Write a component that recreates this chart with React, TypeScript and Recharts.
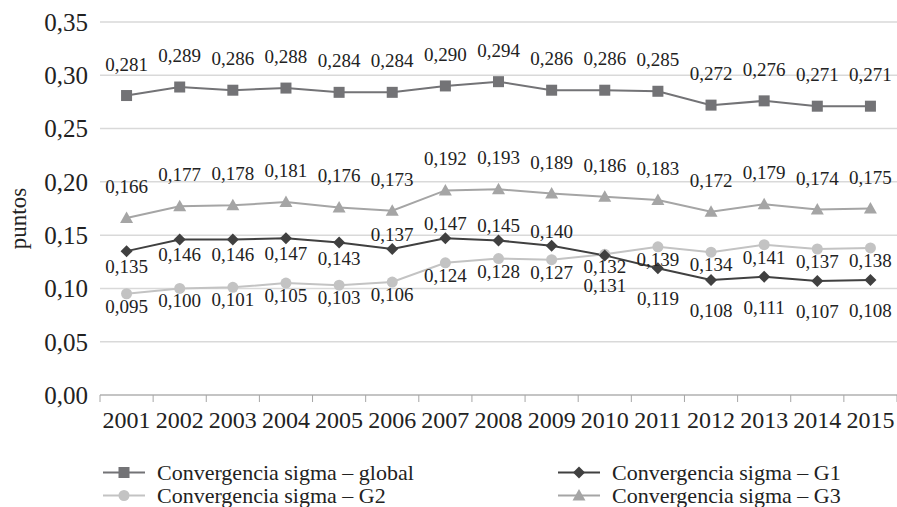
import React from 'react'
import { CartesianGrid, Legend, Line, LineChart, XAxis, YAxis, LabelList } from 'recharts'

const years = ['2001', '2002', '2003', '2004', '2005', '2006', '2007', '2008', '2009', '2010', '2011', '2012', '2013', '2014', '2015']
const sigmaGlobal = [0.281, 0.289, 0.286, 0.288, 0.284, 0.284, 0.29, 0.294, 0.286, 0.286, 0.285, 0.272, 0.276, 0.271, 0.271]
const sigmaG1 = [0.135, 0.146, 0.146, 0.147, 0.143, 0.137, 0.147, 0.145, 0.14, 0.131, 0.119, 0.108, 0.111, 0.107, 0.108]
const sigmaG2 = [0.095, 0.1, 0.101, 0.105, 0.103, 0.106, 0.124, 0.128, 0.127, 0.132, 0.139, 0.134, 0.141, 0.137, 0.138]
const sigmaG3 = [0.166, 0.177, 0.178, 0.181, 0.176, 0.173, 0.192, 0.193, 0.189, 0.186, 0.183, 0.172, 0.179, 0.174, 0.175]
const yTicks = [0, 0.05, 0.1, 0.15, 0.2, 0.25, 0.3, 0.35]

const data = years.map((year, i) => ({
  year,
  global: sigmaGlobal[i],
  g1: sigmaG1[i],
  g2: sigmaG2[i],
  g3: sigmaG3[i],
}))

const W = 897
const H = 507
const Y_AXIS_W = 100
const PLOT_W = W - Y_AXIS_W
const HALF_BAND = PLOT_W / years.length / 2
const FONT = 'Liberation Serif, serif'

const C_GLOBAL = '#737376'
const C_G1 = '#404040'
const C_G2 = '#c3c3c3'
const C_G3 = '#a5a5a5'

// G1 labels that excel put above the point, and from 2010 on they sit further below
const g1Above = new Set([5, 6, 7, 8])
const G1_FAR_FROM = 9

const fmt = (v: number, d: number) => v.toFixed(d).replace('.', ',')

const Marker = ({ shape, cx, cy, color }: any) => {
  if (cx == null || cy == null) return null
  if (shape === 'square') return <rect x={cx - 5.5} y={cy - 5.5} width={11} height={11} fill={color} />
  if (shape === 'diamond')
    return <polygon points={`${cx},${cy - 6} ${cx + 6},${cy} ${cx},${cy + 6} ${cx - 6},${cy}`} fill={color} />
  if (shape === 'triangle')
    return <polygon points={`${cx},${cy - 6.5} ${cx + 6.5},${cy + 5} ${cx - 6.5},${cy + 5}`} fill={color} />
  return <circle cx={cx} cy={cy} r={5.5} fill={color} />
}

const makeDot = (shape: string, color: string) => (p: any) => (
  <Marker key={p.index} shape={shape} cx={p.cx} cy={p.cy} color={color} />
)

const makeLabel = (series: string) => (p: any) => {
  const { x, y, value, index } = p
  let dy = -25
  if (series === 'g2') dy = 19
  if (series === 'g1') dy = g1Above.has(index) ? -8 : index >= G1_FAR_FROM ? 37 : 22
  return (
    <text x={x} y={y + dy} textAnchor='middle' style={{ fontFamily: FONT }} fontSize={19} fill='#222'>
      {fmt(value, 3)}
    </text>
  )
}

const YearTick = ({ x, y, payload, index }: any) => (
  <g>
    <line x1={x - HALF_BAND} y1={y} x2={x - HALF_BAND} y2={y + 7} stroke='#a6a6a6' />
    {index === years.length - 1 && <line x1={x + HALF_BAND} y1={y} x2={x + HALF_BAND} y2={y + 7} stroke='#a6a6a6' />}
    <text x={x} y={y + 33} textAnchor='middle' style={{ fontFamily: FONT }} fontSize={24} fill='#222'>
      {payload.value}
    </text>
  </g>
)

const legendItems = [
  { name: 'Convergencia sigma – global', shape: 'square', color: C_GLOBAL, col: 0, row: 0 },
  { name: 'Convergencia sigma – G1', shape: 'diamond', color: C_G1, col: 1, row: 0 },
  { name: 'Convergencia sigma – G2', shape: 'circle', color: C_G2, col: 0, row: 1 },
  { name: 'Convergencia sigma – G3', shape: 'triangle', color: C_G3, col: 1, row: 1 },
]

const LegendBox = () => (
  <div style={{ position: 'relative', height: 55, width: W, fontFamily: FONT, fontSize: 22, color: '#222' }}>
    {legendItems.map((it) => (
      <div
        key={it.name}
        style={{
          position: 'absolute',
          left: it.col === 0 ? 103 : 558,
          top: 9 + it.row * 23,
          height: 23,
          lineHeight: '23px',
          display: 'flex',
          alignItems: 'center',
          whiteSpace: 'nowrap',
        }}
      >
        <svg width={42} height={23} style={{ marginRight: 12 }}>
          <line x1={0} y1={11.5} x2={42} y2={11.5} stroke={it.color} strokeWidth={2} />
          <Marker shape={it.shape} cx={21} cy={11.5} color={it.color} />
        </svg>
        <span>{it.name}</span>
      </div>
    ))}
  </div>
)

export default function App() {
  return (
    <div style={{ position: 'absolute', left: 0, top: 0, width: W, height: H, background: '#fff' }}>
      <LineChart width={W} height={H} data={data} margin={{ top: 22, right: 0, left: 0, bottom: 0 }}>
        <CartesianGrid vertical={false} stroke='#d9d9d9' strokeWidth={1.5} />
        <XAxis
          dataKey='year'
          height={57}
          padding={{ left: HALF_BAND, right: HALF_BAND }}
          tickSize={0}
          tickMargin={0}
          tickLine={false}
          axisLine={{ stroke: '#a6a6a6' }}
          tick={<YearTick />}
          interval={0}
        />
        <YAxis
          width={Y_AXIS_W}
          domain={[0, 0.35]}
          ticks={yTicks}
          tickFormatter={(v: number) => fmt(v, 2)}
          axisLine={false}
          tickLine={false}
          tickSize={0}
          tickMargin={12}
          tick={{ fontSize: 25, fill: '#222', style: { fontFamily: FONT } }}
          label={{
            value: 'puntos',
            angle: -90,
            position: 'insideLeft',
            offset: 18,
            dy: 10,
            style: { fontFamily: FONT, fontSize: 23, fill: '#222', textAnchor: 'middle' },
          }}
        />
        <Legend verticalAlign='bottom' align='left' content={<LegendBox />} wrapperStyle={{ left: 0, width: W }} />
        <Line dataKey='global' stroke={C_GLOBAL} strokeWidth={2} dot={makeDot('square', C_GLOBAL)} isAnimationActive={false}>
          <LabelList dataKey='global' content={makeLabel('global')} />
        </Line>
        <Line dataKey='g3' stroke={C_G3} strokeWidth={2} dot={makeDot('triangle', C_G3)} isAnimationActive={false}>
          <LabelList dataKey='g3' content={makeLabel('g3')} />
        </Line>
        <Line dataKey='g2' stroke={C_G2} strokeWidth={2} dot={makeDot('circle', C_G2)} isAnimationActive={false}>
          <LabelList dataKey='g2' content={makeLabel('g2')} />
        </Line>
        <Line dataKey='g1' stroke={C_G1} strokeWidth={2} dot={makeDot('diamond', C_G1)} isAnimationActive={false}>
          <LabelList dataKey='g1' content={makeLabel('g1')} />
        </Line>
      </LineChart>
    </div>
  )
}
